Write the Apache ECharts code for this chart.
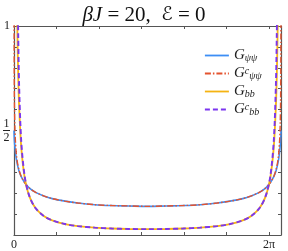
<!DOCTYPE html>
<html>
<head>
<meta charset="utf-8">
<script src="https://cdn.jsdelivr.net/npm/echarts@6/dist/echarts.min.js"></script>
<style>
html,body{margin:0;padding:0;background:#fff;}
#c{width:288px;height:251px;}
</style>
</head>
<body>
<div id="c"></div>
<script>
// theta values (0 .. 2π)
const theta = [0, 0.002, 0.005, 0.01, 0.02, 0.03, 0.05, 0.06, 0.08, 0.1, 0.12, 0.17, 0.25, 0.35, 0.5, 0.7, 0.9, 1.2, 1.5, 1.9, 2.3, 2.7, 3.1416,
  3.5832, 3.9832, 4.3832, 4.7832, 5.0832, 5.3832, 5.5832, 5.7832, 5.9332, 6.0332, 6.1132, 6.1632, 6.1832, 6.2032, 6.2232, 6.2332, 6.2532, 6.2632, 6.2732, 6.2782, 6.2812, 6.2832];
const G_psipsi = [0.5, 0.485, 0.47, 0.45, 0.425, 0.405, 0.37, 0.358, 0.337, 0.32, 0.305, 0.279, 0.251, 0.227, 0.205, 0.187, 0.174, 0.162, 0.153, 0.145, 0.141, 0.139, 0.137,
  0.139, 0.141, 0.145, 0.153, 0.162, 0.174, 0.187, 0.205, 0.227, 0.251, 0.279, 0.305, 0.32, 0.337, 0.358, 0.37, 0.405, 0.425, 0.45, 0.47, 0.485, 0.5];
const Gc_psipsi = [null, 1.02, 0.778, 0.637, 0.521, 0.463, 0.399, 0.379, 0.348, 0.327, 0.31, 0.28, 0.251, 0.227, 0.205, 0.187, 0.174, 0.162, 0.153, 0.145, 0.141, 0.139, 0.137,
  0.139, 0.141, 0.145, 0.153, 0.162, 0.174, 0.187, 0.205, 0.227, 0.251, 0.28, 0.31, 0.327, 0.348, 0.379, 0.399, 0.463, 0.521, 0.637, 0.778, 1.02, null];
const G_bb = [null, null, null, null, null, null, 1.62, 1.32, 0.966, 0.755, 0.618, 0.421, 0.276, 0.191, 0.13, 0.091, 0.07, 0.0525, 0.0427, 0.0351, 0.031, 0.0288, 0.028,
  0.0288, 0.031, 0.0351, 0.0427, 0.0525, 0.07, 0.091, 0.13, 0.191, 0.276, 0.421, 0.618, 0.755, 0.966, 1.32, 1.62, null, null, null, null, null, null];
const Gc_bb = [null, null, null, null, null, null, 2.0, 1.7, 1.25, 0.95, 0.72, 0.45, 0.283, 0.193, 0.13, 0.091, 0.07, 0.0525, 0.0427, 0.0351, 0.031, 0.0288, 0.028,
  0.0288, 0.031, 0.0351, 0.0427, 0.0525, 0.07, 0.091, 0.13, 0.193, 0.283, 0.45, 0.72, 0.95, 1.25, 1.7, 2.0, null, null, null, null, null, null];
const xTickLabels = {0: '0', 6: '2π'};
const yTickLabels = {1: '{n|1}', 0.5: '{n|1}\n{bar|}\n{n|2}'};

const seriesNames = ['G_psipsi', 'Gc_psipsi', 'G_bb', 'Gc_bb'];
const legendText = {
  'G_psipsi': '{g|G}{sub|ψψ}',
  'Gc_psipsi': '{g|G}{sup|c}{sub|ψψ}',
  'G_bb': '{g|G}{sub|bb}',
  'Gc_bb': '{g|G}{sup|c}{sub|bb}'
};
function pairs(arr){ return theta.map((t,i)=> arr[i]==null ? [t, null] : [t, arr[i]]); }

const serif = '"Liberation Serif", "DejaVu Serif", serif';
const frameColor = '#555';
const chart = echarts.init(document.getElementById('c'), null, {renderer:'canvas'});
chart.setOption({
  animation: false,
  backgroundColor: '#fff',
  title: {
    text: '{i|βJ} = 20,  {e|ℰ} = 0',
    left: 'center', top: 0,
    textStyle: {
      fontFamily: serif, fontSize: 21, fontWeight: 'normal', color: '#111',
      rich: {
        i: {fontFamily: serif, fontSize: 21, fontStyle: 'italic', color: '#111'},
        e: {fontFamily: '"DejaVu Serif", "DejaVu Sans", serif', fontSize: 19, fontStyle: 'italic', color: '#111'}
      }
    }
  },
  legend: {
    orient: 'vertical', left: 199, top: 43,
    itemWidth: 24, itemHeight: 10, itemGap: 3,
    data: seriesNames,
    itemStyle: {opacity: 0},
    lineStyle: {width: 1.8},
    formatter: n => legendText[n],
    textStyle: {
      fontFamily: serif, color: '#222',
      rich: {
        g: {fontFamily: serif, fontSize: 15, fontStyle: 'italic', lineHeight: 15, color: '#222'},
        sub: {fontFamily: serif, fontSize: 10, fontStyle: 'italic', lineHeight: 10, verticalAlign: 'bottom', color: '#222'},
        sup: {fontFamily: serif, fontSize: 10, fontStyle: 'italic', lineHeight: 10, verticalAlign: 'top', color: '#222'}
      }
    }
  },
  grid: {left: 13, right: 7, top: 26, bottom: 13, containLabel: false},
  xAxis: [{
    type: 'value', min: 0, max: 6.2832, interval: 1, position: 'bottom',
    axisLine: {show: true, onZero: false, lineStyle: {color: frameColor, width: 1.2}},
    axisTick: {show: true, inside: true, length: 3, lineStyle: {color: frameColor}},
    splitLine: {show: false},
    axisLabel: {
      margin: 4, fontFamily: serif, fontSize: 12, color: '#222', showMaxLabel: true,
      formatter: v => { const k = Math.round(v); return Math.abs(v-k) < 1e-6 && xTickLabels[k] ? xTickLabels[k] : ''; }
    }
  }, {
    type: 'value', min: 0, max: 6.2832, interval: 1, position: 'top',
    axisLine: {show: true, onZero: false, lineStyle: {color: frameColor, width: 1.2}},
    axisTick: {show: true, inside: true, length: 3, lineStyle: {color: frameColor}},
    splitLine: {show: false}, axisLabel: {show: false}
  }],
  yAxis: [{
    type: 'value', min: 0, max: 1, interval: 0.1, position: 'left',
    axisLine: {show: true, onZero: false, lineStyle: {color: frameColor, width: 1.2}},
    axisTick: {show: true, inside: true, length: 3, lineStyle: {color: frameColor}},
    splitLine: {show: false},
    axisLabel: {
      margin: 4, fontFamily: serif, fontSize: 12, color: '#222',
      formatter: v => { const r = Math.round(v*10)/10; return yTickLabels[r] || ''; },
      rich: {
        n: {fontFamily: serif, fontSize: 12, lineHeight: 11, align: 'center', color: '#222'},
        bar: {height: 1, width: 7, backgroundColor: '#222', lineHeight: 3}
      }
    }
  }, {
    type: 'value', min: 0, max: 1, interval: 0.1, position: 'right',
    axisLine: {show: true, onZero: false, lineStyle: {color: frameColor, width: 1.2}},
    axisTick: {show: true, inside: true, length: 3, lineStyle: {color: frameColor}},
    splitLine: {show: false}, axisLabel: {show: false}
  }],
  series: [
    {name: 'G_psipsi', type: 'line', data: pairs(G_psipsi), showSymbol: false, symbol: 'none', smooth: 0.3, clip: true,
      lineStyle: {color: '#3d8ef5', width: 1.6}, itemStyle: {color: '#3d8ef5'}},
    {name: 'Gc_psipsi', type: 'line', data: pairs(Gc_psipsi), showSymbol: false, symbol: 'none', smooth: 0.3, clip: true,
      lineStyle: {color: '#e4532e', width: 1.4, type: [6, 2, 1.5, 2]}, itemStyle: {color: '#e4532e'}},
    {name: 'G_bb', type: 'line', data: pairs(G_bb), showSymbol: false, symbol: 'none', smooth: 0.3, clip: true,
      lineStyle: {color: '#f5b312', width: 1.8}, itemStyle: {color: '#f5b312'}},
    {name: 'Gc_bb', type: 'line', data: pairs(Gc_bb), showSymbol: false, symbol: 'none', smooth: 0.3, clip: true,
      lineStyle: {color: '#7b35ef', width: 1.9, type: [5, 3]}, itemStyle: {color: '#7b35ef'}}
  ]
});
</script>
</body>
</html>
